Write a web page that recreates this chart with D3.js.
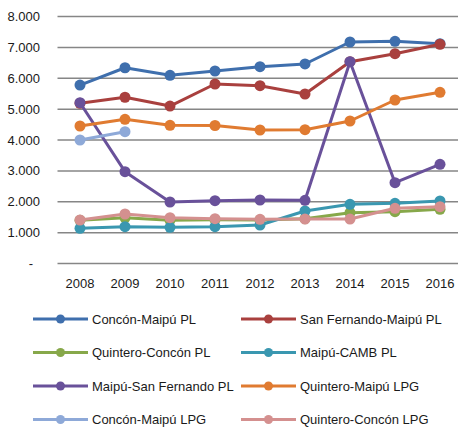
<!DOCTYPE html>
<html>
<head>
<meta charset="utf-8">
<script src="https://cdn.jsdelivr.net/npm/d3@7"></script>
<style>
  body { margin: 0; background: #fff; }
  svg { display: block; font-family: "Liberation Sans", Arial, sans-serif; }
</style>
</head>
<body>
<script>
const years = ["2008", "2009", "2010", "2011", "2012", "2013", "2014", "2015", "2016"];
const yTicks = [0, 1000, 2000, 3000, 4000, 5000, 6000, 7000, 8000];

const seriesNames = [
  "Concón-Maipú PL", "San Fernando-Maipú PL",
  "Quintero-Concón PL", "Maipú-CAMB PL",
  "Maipú-San Fernando PL", "Quintero-Maipú LPG",
  "Concón-Maipú LPG", "Quintero-Concón LPG"
];
const seriesColors = ["#3f6fad", "#a9403e", "#87a84a", "#3a97b0", "#69519a", "#e07b31", "#8ea9d8", "#d4908f"];

const concónMaipúPL      = [5780, 6340, 6095, 6235, 6374, 6462, 7174, 7197, 7120];
const sanFernandoMaipúPL = [5190, 5385, 5100, 5814, 5758, 5490, 6537, 6796, 7100];
const quinteroConcónPL   = [1400, 1480, 1400, 1420, 1409, 1450, 1645, 1678, 1755];
const maipúCAMBPL        = [1139, 1193, 1172, 1193, 1247, 1700, 1917, 1949, 2024];
const maipúSanFernandoPL = [5208, 2974, 1992, 2035, 2057, 2046, 6537, 2618, 3212];
const quinteroMaipúLPG   = [4453, 4670, 4475, 4470, 4324, 4334, 4615, 5296, 5545];
const concónMaipúLPG     = [4000, 4269, null, null, null, null, null, null, null];
const quinteroConcónLPG  = [1409, 1603, 1484, 1451, 1430, 1440, 1440, 1788, 1840];

const seriesValues = [concónMaipúPL, sanFernandoMaipúPL, quinteroConcónPL, maipúCAMBPL,
  maipúSanFernandoPL, quinteroMaipúLPG, concónMaipúLPG, quinteroConcónLPG];

const width = 458, height = 428;

const svg = d3.select("body").append("svg")
  .attr("width", width)
  .attr("height", height);

const x = d3.scalePoint().domain(years).range([80, 440]);
const y = d3.scaleLinear().domain([0, 8000]).range([263.5, 16.5]);

// gridlines
svg.append("g")
  .selectAll("line")
  .data(yTicks)
  .join("line")
  .attr("x1", 57.5)
  .attr("x2", 458)
  .attr("y1", d => y(d))
  .attr("y2", d => y(d))
  .attr("stroke", "#868686")
  .attr("stroke-width", 1.5);

const fmt = d => d === 0 ? "-" : d3.format(",")(d).replace(/,/g, ".");

svg.append("g")
  .selectAll("text")
  .data(yTicks)
  .join("text")
  .attr("x", d => d === 0 ? 33 : 40)
  .attr("y", d => y(d))
  .attr("dy", "0.35em")
  .attr("text-anchor", "end")
  .attr("font-size", 13)
  .attr("fill", "#1a1a1a")
  .text(fmt);

svg.append("g")
  .selectAll("text")
  .data(years)
  .join("text")
  .attr("x", d => x(d))
  .attr("y", 288)
  .attr("text-anchor", "middle")
  .attr("font-size", 13)
  .attr("fill", "#1a1a1a")
  .text(d => d);

const line = d3.line()
  .defined(d => d.v != null)
  .x(d => x(d.year))
  .y(d => y(d.v));

seriesValues.forEach((vals, i) => {
  const pts = vals.map((v, j) => ({ year: years[j], v }));
  const g = svg.append("g");
  g.append("path")
    .datum(pts)
    .attr("d", line)
    .attr("fill", "none")
    .attr("stroke", seriesColors[i])
    .attr("stroke-width", 3)
    .attr("stroke-linejoin", "round");
  g.selectAll("circle")
    .data(pts.filter(d => d.v != null))
    .join("circle")
    .attr("cx", d => x(d.year))
    .attr("cy", d => y(d.v))
    .attr("r", 5.5)
    .attr("fill", seriesColors[i]);
});

// legend, two columns
const legend = svg.append("g")
  .selectAll("g")
  .data(seriesNames)
  .join("g")
  .attr("transform", (d, i) => `translate(${i % 2 === 0 ? 33 : 241},${319 + Math.floor(i / 2) * 33.5})`);

legend.append("line")
  .attr("x1", 0).attr("x2", 55)
  .attr("stroke", (d, i) => seriesColors[i])
  .attr("stroke-width", 3);

legend.append("circle")
  .attr("cx", 27.5)
  .attr("r", 4.5)
  .attr("fill", (d, i) => seriesColors[i]);

legend.append("text")
  .attr("x", 59)
  .attr("dy", "0.35em")
  .attr("font-size", 13)
  .attr("fill", "#1a1a1a")
  .text(d => d);
</script>
</body>
</html>
